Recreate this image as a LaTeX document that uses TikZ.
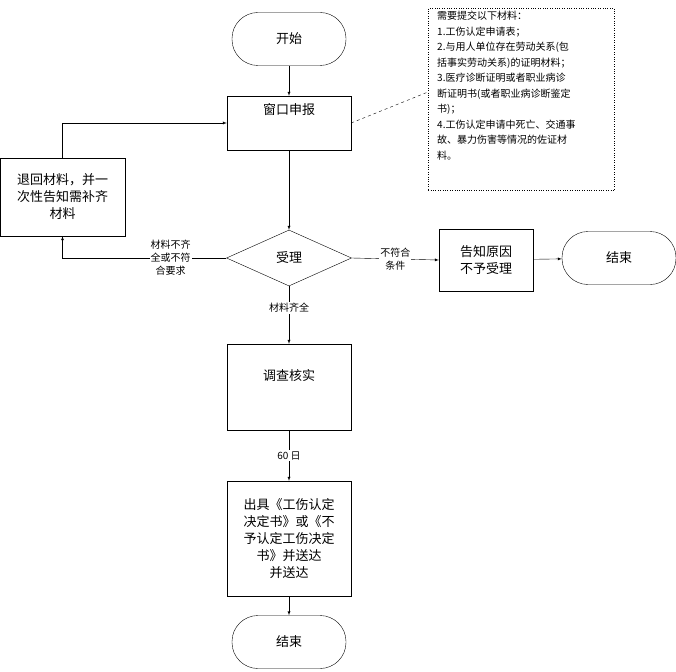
\documentclass[tikz,border=0pt]{standalone}
\usepackage{fontspec}
\setmainfont{Noto Sans CJK SC}
\usetikzlibrary{positioning}
\usetikzlibrary{shapes.geometric}
\tikzset{
  proc/.style={draw, minimum width=124pt, align=center, font=\fontsize{13}{17}\selectfont},
  term/.style={draw, rounded corners=26pt, minimum width=114pt, minimum height=53pt, font=\fontsize{13}{17}\selectfont},
  txt/.style={font=\fontsize{13}{17}\selectfont, align=center},
  lab/.style={font=\fontsize{10}{13}\selectfont, fill=white, align=center, inner sep=1pt},
  flow/.style={->, >=latex}
}
\begin{document}
\begin{tikzpicture}[x=1pt,y=-1pt]
\useasboundingbox (0,0) rectangle (676,671);

\node[term] (start) at (289,39) {开始};
\node[proc, minimum height=54pt] (apply) at (289,123) {};
\node[txt, below=4pt of apply.north] (applyt) {窗口申报};
\node[draw, dotted, minimum width=186pt, minimum height=182pt, anchor=north west] (note) at (428,8) {};
\node[anchor=north west, align=left, font=\fontsize{10}{15.5}\selectfont, inner sep=0pt] (notet) at (437,11)
  {需要提交以下材料：\\1.工伤认定申请表；\\2.与用人单位存在劳动关系(包\\括事实劳动关系)的证明材料；\\3.医疗诊断证明或者职业病诊\\断证明书(或者职业病诊断鉴定\\书)；\\4.工伤认定申请中死亡、交通事\\故、暴力伤害等情况的佐证材\\料。};
\node[proc, minimum width=125pt, minimum height=78pt] (back) at (62.5,197) {退回材料，并一\\次性告知需补齐\\材料};
\node[draw, diamond, aspect=2.2, minimum width=125pt, minimum height=56pt, inner sep=0pt, font=\fontsize{13}{17}\selectfont] (accept) at (289,258) {受理};
\node[proc, minimum width=94pt, minimum height=62pt] (reject) at (486,260) {告知原因\\不予受理};
\node[term] (end1) at (619,258) {结束};
\node[proc, minimum height=86pt] (check) at (289,387) {};
\node[txt, below=22pt of check.north] (checkt) {调查核实};
\node[proc, minimum height=115pt] (issue) at (289,538.5) {出具《工伤认定\\决定书》或《不\\予认定工伤决定\\书》并送达\\并送达};
\node[term] (end2) at (289,642) {结束};

\draw[flow] (start) -- (apply);
\draw[dashed] (apply.east) -- (note.west |- 0,92);
\draw[flow] (apply) -- (accept);
\draw[flow] (accept.west) -| node[lab, pos=0.17] {材料不齐\\全或不符\\合要求} (back.south);
\draw[flow] (back.north) |- (apply.west);
\draw[flow] (accept.east) -- node[lab] {不符合\\条件} (reject.west);
\draw[flow] (reject) -- (end1);
\draw[flow] (accept) -- node[lab, pos=0.38] {材料齐全} (check);
\draw[flow] (check) -- node[lab] {60 日} (issue);
\draw[flow] (issue) -- (end2);
\end{tikzpicture}
\end{document}
